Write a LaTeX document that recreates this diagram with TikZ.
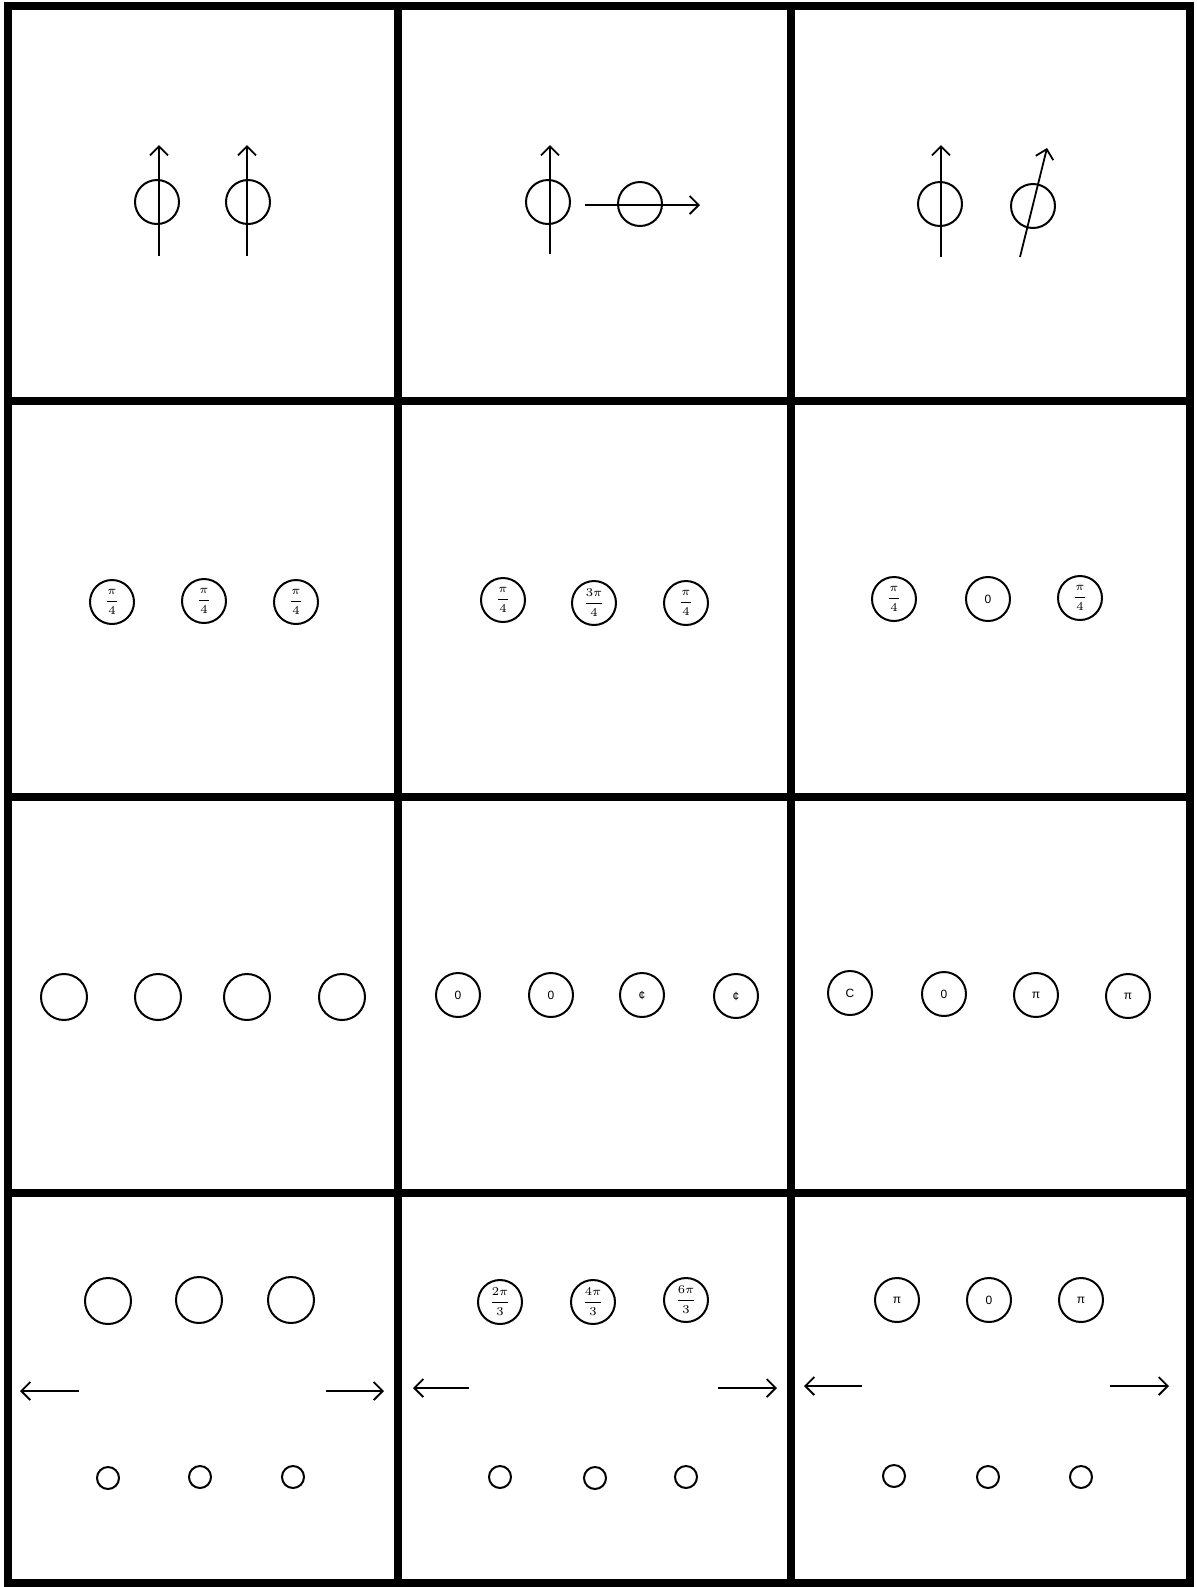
\documentclass[tikz,border=0pt]{standalone}
\usepackage{fontspec}
\newfontfamily\labfont{Liberation Sans}
\usetikzlibrary{arrows.meta}
\tikzset{
  ball/.style={circle,draw,line width=1pt,minimum size=22pt,inner sep=0pt},
  bigball/.style={circle,draw,line width=1pt,minimum size=23pt,inner sep=0pt},
  smallball/.style={circle,draw,line width=1pt,minimum size=11pt,inner sep=0pt},
  rod/.style={line width=0.9pt,-{Straight Barb[length=4.5pt,width=9pt]}},
  gridline/.style={line width=4.2pt},
  lab/.style={font=\labfont\fontsize{6}{7}\selectfont},
  fraclab/.style={font=\fontsize{6}{7}\selectfont},
}
\begin{document}
\begin{tikzpicture}[x=0.5pt,y=-0.5pt]
\useasboundingbox (0,0) rectangle (1196,1587);
% frame
\draw[gridline] (8,6) rectangle (1190,1583);
\draw[gridline] (398,6) -- (398,1583);
\draw[gridline] (791,6) -- (791,1583);
\draw[gridline] (8,401) -- (1190,401);
\draw[gridline] (8,797) -- (1190,797);
\draw[gridline] (8,1193) -- (1190,1193);

% row 1
\node[ball] (r1a) at (157,202) {};
\node[ball] (r1b) at (248,202) {};
\coordinate (r1as) at (159,256); \coordinate (r1ae) at (159,145);
\coordinate (r1bs) at (247,256); \coordinate (r1be) at (247,145);
\draw[rod] (r1as) -- (r1ae);
\draw[rod] (r1bs) -- (r1be);

\node[ball] (r1c) at (548,202) {};
\node[ball] (r1d) at (640,204) {};
\coordinate (r1cs) at (550,254); \coordinate (r1ce) at (550,145);
\coordinate (r1ds) at (585,205); \coordinate (r1de) at (700,205);
\draw[rod] (r1cs) -- (r1ce);
\draw[rod] (r1ds) -- (r1de);

\node[ball] (r1e) at (940,204) {};
\node[ball] (r1f) at (1033,206) {};
\coordinate (r1es) at (941,257); \coordinate (r1ee) at (941,145);
\coordinate (r1fs) at (1020,257); \coordinate (r1fe) at (1047,148);
\draw[rod] (r1es) -- (r1ee);
\draw[rod] (r1fs) -- (r1fe);

% row 2
\node[ball,fraclab] (r2a) at (112,602) {$\displaystyle\frac{\pi}{4}$};
\node[ball,fraclab] (r2b) at (204,601) {$\displaystyle\frac{\pi}{4}$};
\node[ball,fraclab] (r2c) at (296,602) {$\displaystyle\frac{\pi}{4}$};
\node[ball,fraclab] (r2d) at (503,600) {$\displaystyle\frac{\pi}{4}$};
\node[ball,fraclab] (r2e) at (594,603) {$\displaystyle\frac{3\pi}{4}$};
\node[ball,fraclab] (r2f) at (686,603) {$\displaystyle\frac{\pi}{4}$};
\node[ball,fraclab] (r2g) at (894,599) {$\displaystyle\frac{\pi}{4}$};
\node[ball,lab] (r2h) at (988,599) {0};
\node[ball,fraclab] (r2i) at (1080,598) {$\displaystyle\frac{\pi}{4}$};

% row 3
\node[bigball] (r3a) at (64,997) {};
\node[bigball] (r3b) at (158,997) {};
\node[bigball] (r3c) at (247,997) {};
\node[bigball] (r3d) at (342,997) {};
\node[ball,lab] (r3e) at (458,995) {0};
\node[ball,lab] (r3f) at (551,995) {0};
\node[ball,lab] (r3g) at (642,995) {¢};
\node[ball,lab] (r3h) at (736,996) {¢};
\node[ball,lab] (r3i) at (850,993) {C};
\node[ball,lab] (r3j) at (944,994) {0};
\node[ball,lab] (r3k) at (1036,995) {π};
\node[ball,lab] (r3l) at (1128,996) {π};

% row 4
\node[bigball] (r4a) at (108,1301) {};
\node[bigball] (r4b) at (199,1300) {};
\node[bigball] (r4c) at (291,1300) {};
\node[ball,fraclab] (r4d) at (500,1302) {$\displaystyle\frac{2\pi}{3}$};
\node[ball,fraclab] (r4e) at (593,1302) {$\displaystyle\frac{4\pi}{3}$};
\node[ball,fraclab] (r4f) at (686,1300) {$\displaystyle\frac{6\pi}{3}$};
\node[ball,lab] (r4g) at (897,1300) {π};
\node[ball,lab] (r4h) at (989,1300) {0};
\node[ball,lab] (r4i) at (1081,1300) {π};

\coordinate (l1s) at (79,1391); \coordinate (l1e) at (20,1391);
\coordinate (l2s) at (326,1391); \coordinate (l2e) at (384,1391);
\coordinate (l3s) at (469,1388); \coordinate (l3e) at (413,1388);
\coordinate (l4s) at (718,1388); \coordinate (l4e) at (777,1388);
\coordinate (l5s) at (862,1386); \coordinate (l5e) at (804,1386);
\coordinate (l6s) at (1110,1386); \coordinate (l6e) at (1169,1386);
\draw[rod] (l1s) -- (l1e);
\draw[rod] (l2s) -- (l2e);
\draw[rod] (l3s) -- (l3e);
\draw[rod] (l4s) -- (l4e);
\draw[rod] (l5s) -- (l5e);
\draw[rod] (l6s) -- (l6e);

\node[smallball] (s1) at (108,1478) {};
\node[smallball] (s2) at (200,1477) {};
\node[smallball] (s3) at (293,1477) {};
\node[smallball] (s4) at (500,1477) {};
\node[smallball] (s5) at (595,1478) {};
\node[smallball] (s6) at (686,1477) {};
\node[smallball] (s7) at (894,1476) {};
\node[smallball] (s8) at (988,1477) {};
\node[smallball] (s9) at (1081,1477) {};
\end{tikzpicture}
\end{document}
